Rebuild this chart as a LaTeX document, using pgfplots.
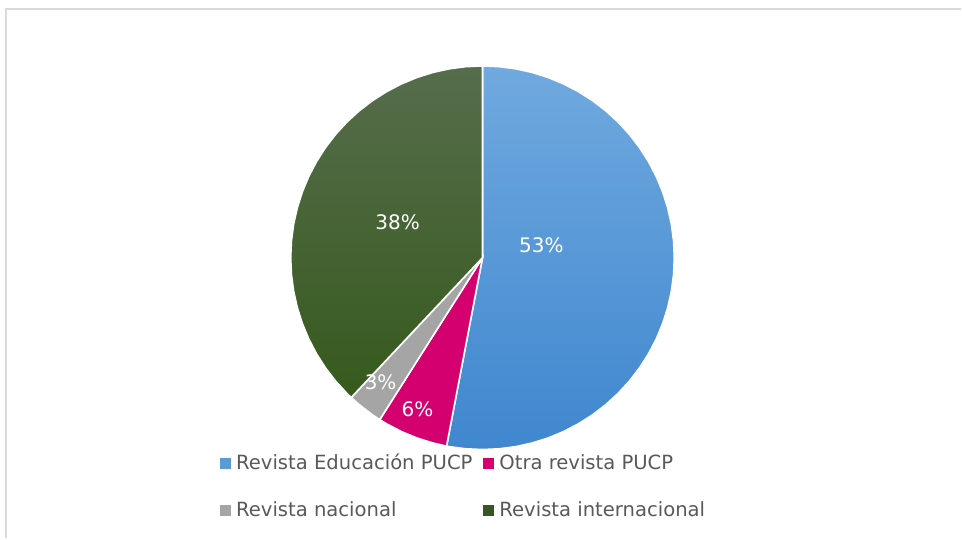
\documentclass[border=0pt]{standalone}
\usepackage{pgfplots}
\pgfplotsset{compat=1.18}
\usepackage{fontspec}
\setmainfont{DejaVu Sans}
\definecolor{blueTop}{HTML}{70A9DF}
\definecolor{blueBot}{HTML}{3F87CF}
\definecolor{blueLeg}{HTML}{5B9BD5}
\definecolor{pinkS}{HTML}{D5006F}
\definecolor{grayS}{HTML}{A5A5A5}
\definecolor{greenTop}{HTML}{566D4C}
\definecolor{greenBot}{HTML}{365A1D}
\definecolor{greenLeg}{HTML}{375623}
\definecolor{legText}{HTML}{595959}
\definecolor{frameC}{HTML}{D9D9D9}
\begin{document}
\begin{tikzpicture}
\begin{axis}[
  x=0.5pt, y=0.5pt, scale only axis,
  xmin=-483, xmax=479, ymin=-281, ymax=258,
  hide axis, clip=false,
  legend columns=2,
  legend image code/.code={\fill[#1, draw=none] (0pt,-2.75pt) rectangle (5.5pt,2.75pt);},
  legend style={draw=none, fill=none, inner sep=0pt,
    at={(0.2287,0.1614)}, anchor=north west,
    font=\fontsize{9.8}{11.6}\selectfont, text=legText,
    cells={anchor=west},
    nodes={inner sep=1pt},
    /tikz/every odd column/.append style={column sep=1.5pt},
    /tikz/every even column/.append style={column sep=4.5pt},
    row sep=12.5pt},
]
% frame
\addplot[draw=frameC, line width=1pt, forget plot] coordinates {(-476.5,-281) (-476.5,248.5) (479,248.5)};
\addplot[draw=none, forget plot] coordinates {(-483,-281) (479,258)};
% Revista Educacion PUCP 53% : 90 -> -100.8
\addplot[data cs=polar, forget plot, draw=white, line width=0.8pt, top color=blueTop, bottom color=blueBot] coordinates {
(0,0) (90,192) (85,192) (80,192) (75,192) (70,192) (65,192) (60,192) (55,192) (50,192) (45,192)
(40,192) (35,192) (30,192) (25,192) (20,192) (15,192) (10,192) (5,192) (0,192)
(-5,192) (-10,192) (-15,192) (-20,192) (-25,192) (-30,192) (-35,192) (-40,192) (-45,192)
(-50,192) (-55,192) (-60,192) (-65,192) (-70,192) (-75,192) (-80,192) (-85,192) (-90,192)
(-95,192) (-100,192) (-100.8,192)} -- cycle;
% Otra revista PUCP 6% : -100.8 -> -122.4
\addplot[data cs=polar, forget plot, draw=white, line width=0.8pt, fill=pinkS] coordinates {
(0,0) (-100.8,192) (-105,192) (-110,192) (-115,192) (-120,192) (-122.4,192)} -- cycle;
% Revista nacional 3% : -122.4 -> -133.2
\addplot[data cs=polar, forget plot, draw=white, line width=0.8pt, fill=grayS] coordinates {
(0,0) (-122.4,192) (-125,192) (-130,192) (-133.2,192)} -- cycle;
% Revista internacional 38% : -133.2 -> -270
\addplot[data cs=polar, forget plot, draw=white, line width=0.8pt, top color=greenTop, bottom color=greenBot] coordinates {
(0,0) (-133.2,192) (-135,192) (-140,192) (-145,192) (-150,192) (-155,192) (-160,192) (-165,192)
(-170,192) (-175,192) (-180,192) (-185,192) (-190,192) (-195,192) (-200,192) (-205,192)
(-210,192) (-215,192) (-220,192) (-225,192) (-230,192) (-235,192) (-240,192) (-245,192)
(-250,192) (-255,192) (-260,192) (-265,192) (-270,192)} -- cycle;
% data labels
\addplot[only marks, mark=none, forget plot, point meta=explicit symbolic,
  nodes near coords, nodes near coords align={center},
  nodes near coords style={text=white, font=\fontsize{10}{12}\selectfont, inner sep=0pt}]
  coordinates {(59,13) [53\%] (-65,-152) [6\%] (-102,-125) [3\%] (-85,36) [38\%]};
\addlegendimage{fill=blueLeg}
\addlegendentry{Revista Educación PUCP}
\addlegendimage{fill=pinkS}
\addlegendentry{Otra revista PUCP}
\addlegendimage{fill=grayS}
\addlegendentry{Revista nacional}
\addlegendimage{fill=greenLeg}
\addlegendentry{Revista internacional}
\end{axis}
\end{tikzpicture}
\end{document}
